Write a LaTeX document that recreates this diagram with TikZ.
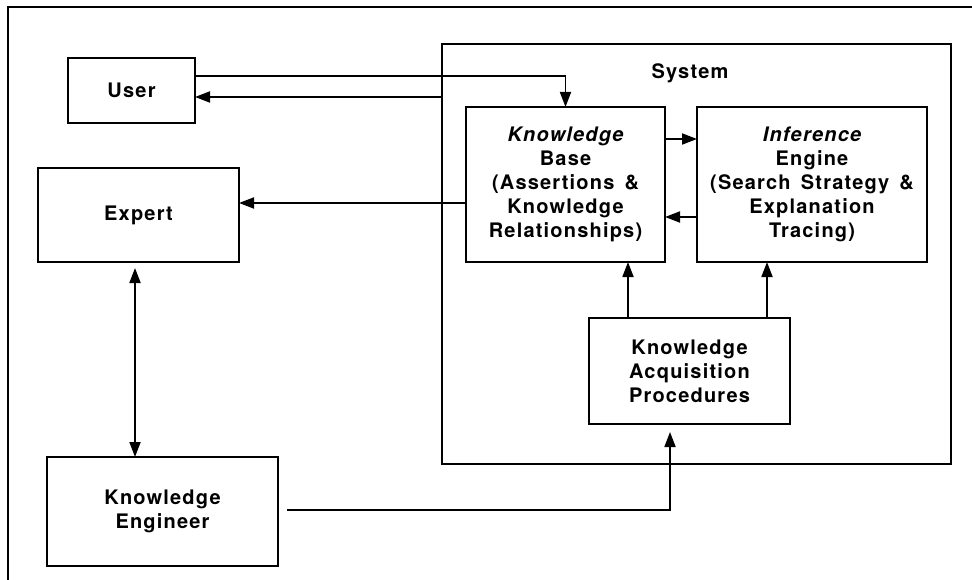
\documentclass[tikz,border=0pt]{standalone}
\usepackage{fontspec}
\setmainfont{TeX Gyre Heros}
\newfontfamily\labfont[LetterSpace=6,WordSpace=1.5]{TeX Gyre Heros}
\usetikzlibrary{arrows.meta}
\begin{document}
\begin{tikzpicture}[x=1pt,y=-1pt,
  labeltext/.style={font=\labfont\bfseries\fontsize{20}{24}\selectfont},
  box/.style={draw, line width=1.9pt, inner sep=0pt, outer sep=0pt,
    align=center, labeltext},
  link/.style={line width=1.8pt},
  arr/.style={link, -{Triangle[length=15pt,width=11pt]}},
  dblarr/.style={link, {Triangle[length=15pt,width=11pt]}-{Triangle[length=15pt,width=11pt]}}]
  \useasboundingbox (0,0) rectangle (972,580);
  % outer frame (top and left edges only)
  \draw[line width=1.5pt] (8,580) -- (8,7) -- (972,7);
  % system enclosure
  \node[box, minimum width=509pt, minimum height=420pt] (sys) at (696.5,254) {};
  \node[labeltext] (syslabel) at (690,73) {System};
  % boxes
  \node[box, minimum width=127pt, minimum height=65pt] (user) at (131.5,90.5) {User};
  \node[box, minimum width=201pt, minimum height=94pt] (expert) at (138.5,215) {Expert};
  \node[box, minimum width=231pt, minimum height=109pt] (ke) at (162.5,511.5) {Knowledge\\Engineer};
  \node[box, minimum width=199pt, minimum height=155pt] (kb) at (565.5,184.5)
    {\itshape Knowledge\\Base\\(Assertions \&\\Knowledge\\Relationships)};
  \node[box, minimum width=230pt, minimum height=155pt] (ie) at (812,184.5)
    {\itshape Inference\\Engine\\(Search Strategy \&\\Explanation\\Tracing)};
  \node[box, minimum width=201pt, minimum height=106pt] (kap) at (689.5,371)
    {Knowledge\\Acquisition\\Procedures};
  % connectors
  \draw[arr] (user.east |- 0,76) -| (kb.north);
  \draw[arr] (sys.west |- 0,97) -- (user.east |- 0,97);
  \draw[arr] (kb.west |- 0,203) -- (expert.east |- 0,203);
  \draw[arr] (kb.east |- 0,139) -- (ie.west |- 0,139);
  \draw[arr] (ie.west |- 0,217) -- (kb.east |- 0,217);
  \draw[dblarr, shorten <=6pt] (expert.south -| 135,0) -- (ke.north -| 135,0);
  \draw[arr] (kap.north -| 628,0) -- (kb.south -| 628,0);
  \draw[arr] (kap.north -| 767,0) -- (ie.south -| 767,0);
  \draw[arr, shorten >=8pt] ([xshift=9pt]ke.east |- 0,510) -| (kap.south -| 670,0);
\end{tikzpicture}
\end{document}
